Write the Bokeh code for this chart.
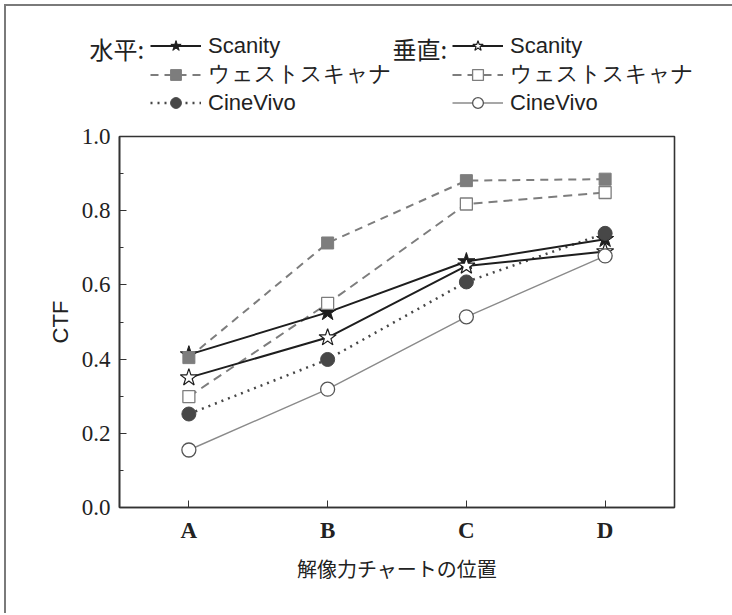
from bokeh.plotting import figure
from bokeh.models import Range1d, FixedTicker, PrintfTickFormatter, Legend, LegendItem, Label
from bokeh.embed import file_html
from bokeh.resources import INLINE

categories = ["A", "B", "C", "D"]
h_scanity = [0.412, 0.526, 0.663, 0.723]
h_west = [0.404, 0.713, 0.881, 0.885]
h_cine = [0.252, 0.399, 0.608, 0.739]
v_scanity = [0.350, 0.458, 0.651, 0.690]
v_west = [0.299, 0.550, 0.818, 0.849]
v_cine = [0.155, 0.319, 0.514, 0.678]
y_ticks = [0.0, 0.2, 0.4, 0.6, 0.8, 1.0]
y_minor = [0.1, 0.3, 0.5, 0.7, 0.9]
series_names = ["Scanity", "ウェストスキャナ", "CineVivo"]
group_names = ["水平:", "垂直:"]
x_title = "解像力チャートの位置"
y_title = "CTF"

xs = list(range(len(categories)))

DARK = "#1e1e1e"
GRAY = "#7d7d7d"
CIRC = "#474747"
TXT = "#222222"
EDGE_C = "#7a7a7a"

styles = {
    "hs": (dict(line_color=DARK, line_width=2),
           dict(marker="star", size=18, fill_color=DARK, line_color=DARK)),
    "hw": (dict(line_color=GRAY, line_width=2, line_dash="8 6"),
           dict(marker="square", size=12, fill_color=GRAY, line_color=GRAY)),
    "hc": (dict(line_color=CIRC, line_width=2.5, line_dash="2 5"),
           dict(marker="circle", size=14, fill_color=CIRC, line_color=CIRC)),
    "vs": (dict(line_color=DARK, line_width=2),
           dict(marker="star", size=18, fill_color="white", line_color=DARK, line_width=1.2)),
    "vw": (dict(line_color=GRAY, line_width=2, line_dash="9 6"),
           dict(marker="square", size=12, fill_color="white", line_color=GRAY, line_width=1.3)),
    "vc": (dict(line_color="#8a8a8a", line_width=1.4),
           dict(marker="circle", size=14, fill_color="white", line_color="#555555", line_width=1.3)),
}
data = {"hs": h_scanity, "hw": h_west, "hc": h_cine,
        "vs": v_scanity, "vw": v_west, "vc": v_cine}

# ---------------- legend strip (top) ----------------
LW, LH = 726, 116
lg = figure(width=LW, height=LH, x_range=Range1d(0, LW), y_range=Range1d(0, LH),
            output_backend="svg", toolbar_location=None, tools="",
            x_axis_type=None, y_axis_type=None,
            min_border=0, min_border_left=0, min_border_right=0,
            min_border_top=0, min_border_bottom=0,
            margin=(6, 0, 0, 6))
lg.toolbar.logo = None
lg.styles = {"box-shadow": f"-2px 0 0 0 {EDGE_C}, 0 -2px 0 0 {EDGE_C}, -2px -2px 0 0 {EDGE_C}"}
lg.xgrid.visible = False
lg.ygrid.visible = False
lg.outline_line_color = None

items = {}
for key in ["hs", "hw", "hc", "vs", "vw", "vc"]:
    r_line = lg.line(xs, data[key], visible=False, **styles[key][0])
    r_mark = lg.scatter(xs, data[key], visible=False, **styles[key][1])
    items[key] = [r_line, r_mark]

leg_style = dict(orientation="vertical", background_fill_alpha=0, border_line_alpha=0,
                 padding=0, margin=0, spacing=0, glyph_width=51, glyph_height=27,
                 label_standoff=7, label_height=27,
                 label_text_font="Liberation Sans",
                 label_text_font_size="22px", label_text_color=TXT,
                 label_text_baseline="middle",
                 inactive_fill_alpha=0)

leg1 = Legend(items=[LegendItem(label=n, renderers=items[k])
                     for n, k in zip(series_names, ["hs", "hw", "hc"])],
              location=(144, 6), **leg_style)
leg2 = Legend(items=[LegendItem(label=n, renderers=items[k])
                     for n, k in zip(series_names, ["vs", "vw", "vc"])],
              location=(446, 6), **leg_style)
lg.add_layout(leg1)
lg.add_layout(leg2)

for gx, name in zip([83, 386], group_names):
    lg.add_layout(Label(x=gx, y=74, text=name, text_baseline="middle",
                        text_font="Noto Sans CJK JP", text_font_size="24px", text_color=TXT))

# ---------------- main chart ----------------
p = figure(frame_width=555, frame_height=371,
           x_range=Range1d(-0.5, 3.5), y_range=Range1d(0, 1),
           output_backend="svg", toolbar_location=None, tools="",
           min_border_left=113, min_border_right=58,
           min_border_top=14, min_border_bottom=106,
           margin=(0, 0, 0, 6))
p.toolbar.logo = None
p.styles = {"box-shadow": f"-2px 0 0 0 {EDGE_C}"}
p.xgrid.visible = False
p.ygrid.visible = False
p.outline_line_color = "#333333"
p.outline_line_width = 1.6
p.outline_line_alpha = 1.0

p.yaxis.ticker = FixedTicker(ticks=y_ticks, minor_ticks=y_minor)
p.yaxis.formatter = PrintfTickFormatter(format="%.1f")
p.yaxis.major_tick_in = 7
p.yaxis.major_tick_out = 0
p.yaxis.minor_tick_in = 4
p.yaxis.minor_tick_out = 0
p.yaxis.major_tick_line_color = "#333333"
p.yaxis.minor_tick_line_color = "#333333"
p.yaxis.axis_line_color = "#333333"
p.yaxis.axis_line_width = 1.6
p.yaxis.major_label_text_font = "Liberation Serif"
p.yaxis.major_label_text_font_size = "23px"
p.yaxis.major_label_text_color = TXT
p.yaxis.major_label_standoff = 9
p.yaxis.axis_label = y_title
p.yaxis.axis_label_text_font = "Liberation Sans"
p.yaxis.axis_label_text_font_style = "normal"
p.yaxis.axis_label_text_font_size = "22px"
p.yaxis.axis_label_text_color = TXT
p.yaxis.axis_label_standoff = 6

p.xaxis.ticker = FixedTicker(ticks=xs)
p.xaxis.major_label_overrides = {i: c for i, c in zip(xs, categories)}
p.xaxis.major_tick_in = 7
p.xaxis.major_tick_out = 0
p.xaxis.minor_tick_line_color = None
p.xaxis.major_tick_line_color = "#333333"
p.xaxis.axis_line_color = "#333333"
p.xaxis.axis_line_width = 1.6
p.xaxis.major_label_text_font = "Liberation Serif"
p.xaxis.major_label_text_font_style = "bold"
p.xaxis.major_label_text_font_size = "23px"
p.xaxis.major_label_text_color = TXT
p.xaxis.major_label_standoff = 10
p.xaxis.axis_label = x_title
p.xaxis.axis_label_text_font = "Noto Sans CJK JP"
p.xaxis.axis_label_text_font_style = "normal"
p.xaxis.axis_label_text_font_size = "20px"
p.xaxis.axis_label_text_color = TXT
p.xaxis.axis_label_standoff = 8

for key in ["vc", "hc", "vw", "hw", "vs", "hs"]:
    p.line(xs, data[key], **styles[key][0])
for key in ["hs", "vs", "hw", "vw", "hc", "vc"]:
    p.scatter(xs, data[key], **styles[key][1])

open("out.html", "w").write(file_html([lg, p], INLINE))
